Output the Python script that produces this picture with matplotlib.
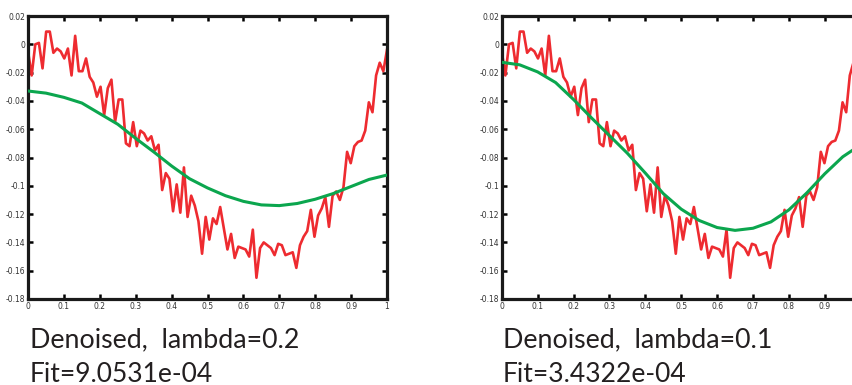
import numpy as np
import matplotlib
matplotlib.use("Agg")
import matplotlib.pyplot as plt

plt.rcParams["axes.unicode_minus"] = False

# noisy signal, 100 samples on [0, 1]
noisy = [
    -0.005, -0.022, 0.000, 0.001, -0.017, 0.009, 0.009, -0.006, -0.003, -0.005,
    -0.010, -0.003, -0.022, 0.006, -0.019, -0.019, -0.010, -0.023, -0.027, -0.037,
    -0.030, -0.050, -0.031, -0.025, -0.055, -0.039, -0.039, -0.070, -0.072, -0.055,
    -0.072, -0.061, -0.063, -0.068, -0.065, -0.075, -0.071, -0.103, -0.091, -0.095,
    -0.118, -0.099, -0.119, -0.087, -0.122, -0.107, -0.114, -0.125, -0.148, -0.122,
    -0.138, -0.123, -0.127, -0.115, -0.130, -0.145, -0.134, -0.151, -0.143, -0.144,
    -0.145, -0.150, -0.131, -0.165, -0.144, -0.140, -0.142, -0.144, -0.149, -0.141,
    -0.142, -0.149, -0.148, -0.147, -0.158, -0.142, -0.136, -0.132, -0.117, -0.136,
    -0.121, -0.116, -0.108, -0.129, -0.107, -0.104, -0.110, -0.101, -0.076, -0.084,
    -0.072, -0.069, -0.068, -0.061, -0.041, -0.048, -0.022, -0.013, -0.019, -0.004,
]
x_noisy = np.linspace(0, 1, len(noisy))

# denoised curves, read every 0.05
x_fit = np.linspace(0, 1, 21)
fit_02 = [
    -0.0330, -0.0345, -0.0375, -0.0415, -0.0490, -0.0565, -0.0665, -0.0760,
    -0.0860, -0.0950, -0.1015, -0.1070, -0.1110, -0.1135, -0.1140, -0.1125,
    -0.1095, -0.1055, -0.1005, -0.0955, -0.0924,
]
fit_01 = [
    -0.0127, -0.0145, -0.0195, -0.0270, -0.0390, -0.0520, -0.0645, -0.0770,
    -0.0910, -0.1055, -0.1165, -0.1245, -0.1295, -0.1315, -0.1300, -0.1255,
    -0.1170, -0.1050, -0.0915, -0.0795, -0.0710,
]

lambdas = ["0.2", "0.1"]
fits = ["9.0531e-04", "3.4322e-04"]

xticks = [0, 0.1, 0.2, 0.3, 0.4, 0.5, 0.6, 0.7, 0.8, 0.9, 1]
xticklabels = ["0", "0.1", "0.2", "0.3", "0.4", "0.5", "0.6", "0.7", "0.8", "0.9", "1"]
yticks = [0.02, 0, -0.02, -0.04, -0.06, -0.08, -0.1, -0.12, -0.14, -0.16, -0.18]
yticklabels = ["0.02", "0", "-0.02", "-0.04", "-0.06", "-0.08", "-0.1",
               "-0.12", "-0.14", "-0.16", "-0.18"]

RED = "#EE2B30"
GREEN = "#0BA64E"
TEXT = "#231F20"

fig = plt.figure(figsize=(8.52, 3.85), dpi=100)

panels = [
    (0.0329, fit_02, 0.0352),
    (0.5889, fit_01, 0.5900),
]

for k, ((left, fit, tx), lam, fitval) in enumerate(zip(panels, lambdas, fits)):
    ax = fig.add_axes([left, 0.2234, 0.4213, 0.735])
    ax.plot(x_noisy, noisy, color=RED, lw=1.9, zorder=2)
    ax.plot(x_fit, fit, color=GREEN, lw=2.2, zorder=3)
    ax.set_xlim(0, 1)
    ax.set_ylim(-0.18, 0.02)
    ax.set_xticks(xticks)
    labels = list(xticklabels)
    if k == 1:
        # the right panel runs past the picture edge, its "1" is not shown
        labels[-1] = ""
    ax.set_xticklabels(labels)
    ax.set_yticks(yticks)
    ax.set_yticklabels(yticklabels)
    ax.tick_params(direction="in", top=True, right=True, length=3.5, width=1.8,
                   labelsize=5.5, labelcolor="#333333", pad=2)
    for s in ax.spines.values():
        s.set_linewidth(2.3)
        s.set_color("#1A1A1A")

    fig.text(tx, 0.099, f"Denoised,  lambda={lam}", fontsize=19.3, family="Lato",
             color=TEXT, va="baseline")
    fig.text(tx, 0.009, f"Fit={fitval}", fontsize=19, family="Lato",
             color=TEXT, va="baseline")

fig.savefig("out.png", dpi=100)
